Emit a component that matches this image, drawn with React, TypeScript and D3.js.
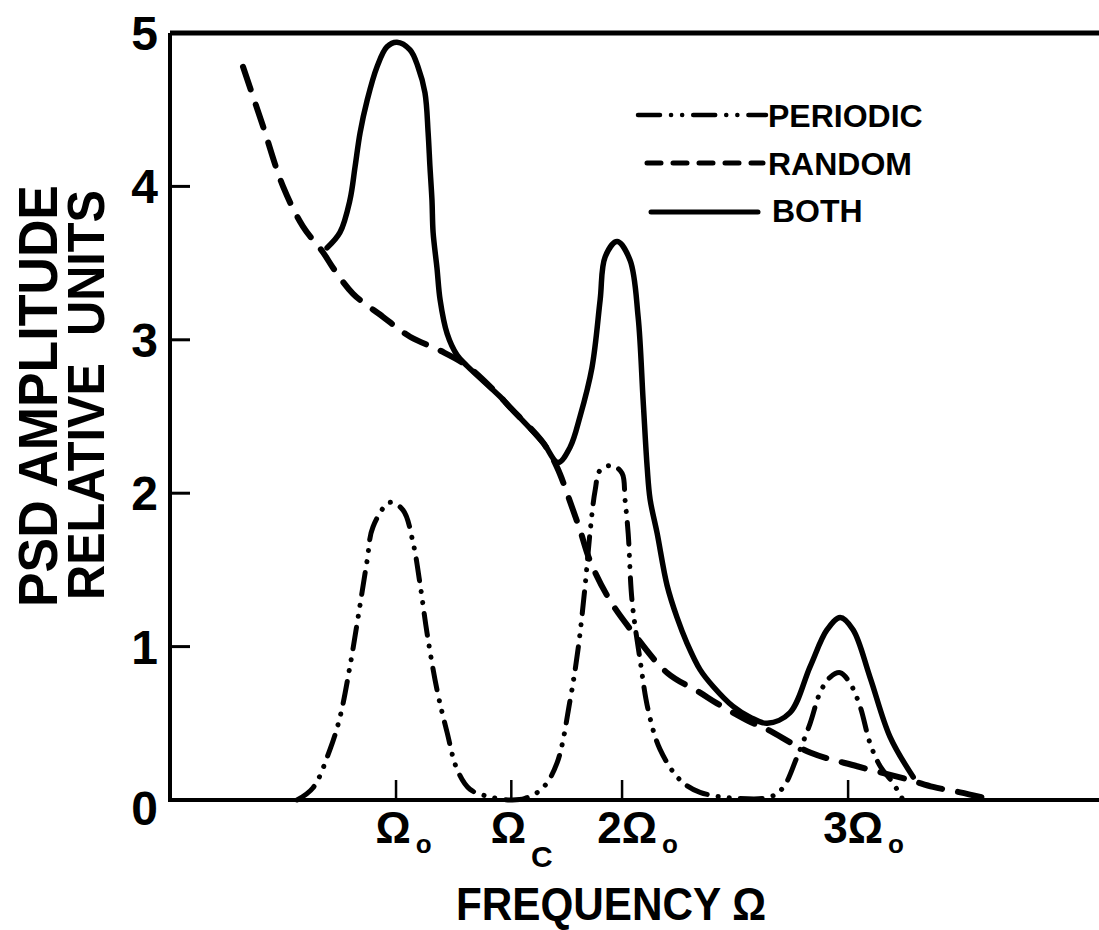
import React, { useEffect, useRef } from "react";
import * as d3 from "d3";

const W = 1099;
const H = 930;

// y axis ticks (relative units)
const yTickValues = [0, 1, 2, 3, 4, 5];
// x axis ticks (frequency in units of Ω0)
const xTickValues = [1, 1.51, 2, 3];
const xTickMain = ["Ω", "Ω", "2Ω", "3Ω"];
const xTickSub = ["o", "C", "o", "o"];

// RANDOM (dashed)
const randomU = [0.323, 0.412, 0.5, 0.588, 0.677, 0.721, 0.81, 0.942, 1.062, 1.195, 1.314, 1.46, 1.504, 1.65, 1.712, 1.783, 1.814, 1.858, 1.947, 2.049, 2.199, 2.345, 2.42, 2.553, 2.642, 2.832, 3.04, 3.274, 3.376, 3.496, 3.615];
const randomV = [4.78, 4.39, 4.0, 3.74, 3.57, 3.47, 3.3, 3.15, 3.02, 2.93, 2.83, 2.63, 2.56, 2.33, 2.17, 1.89, 1.76, 1.56, 1.3, 1.09, 0.83, 0.7, 0.63, 0.52, 0.46, 0.31, 0.22, 0.13, 0.085, 0.05, 0.01];

// BOTH (solid)
const bothU = [0.695, 0.752, 0.796, 0.819, 0.841, 0.872, 0.916, 0.96, 1.004, 1.062, 1.097, 1.128, 1.142, 1.15, 1.159, 1.164, 1.181, 1.195, 1.226, 1.27, 1.314, 1.46, 1.504, 1.65, 1.717, 1.77, 1.814, 1.867, 1.903, 1.925, 1.978, 2.035, 2.071, 2.093, 2.111, 2.124, 2.155, 2.199, 2.243, 2.288, 2.345, 2.403, 2.491, 2.566, 2.642, 2.743, 2.832, 2.907, 2.965, 3.022, 3.097, 3.186, 3.288];
const bothV = [3.6, 3.7, 3.91, 4.13, 4.35, 4.56, 4.78, 4.91, 4.94, 4.89, 4.78, 4.61, 4.35, 4.13, 3.91, 3.7, 3.47, 3.26, 3.04, 2.9, 2.83, 2.63, 2.56, 2.33, 2.2, 2.3, 2.5, 2.82, 3.26, 3.54, 3.64, 3.52, 3.15, 2.61, 2.17, 1.96, 1.74, 1.4, 1.19, 1.02, 0.85, 0.74, 0.61, 0.54, 0.5, 0.57, 0.87, 1.11, 1.19, 1.11, 0.8, 0.41, 0.15];

// PERIODIC (dash-dot-dot)
const periodicU = [0.562, 0.633, 0.708, 0.752, 0.796, 0.832, 0.872, 0.898, 0.973, 1.031, 1.075, 1.106, 1.137, 1.181, 1.226, 1.27, 1.327, 1.416, 1.504, 1.571, 1.65, 1.712, 1.77, 1.805, 1.836, 1.858, 1.881, 1.903, 1.956, 2.0, 2.013, 2.027, 2.044, 2.08, 2.115, 2.168, 2.257, 2.345, 2.522, 2.655, 2.712, 2.774, 2.832, 2.876, 2.92, 2.965, 3.009, 3.053, 3.097, 3.142, 3.199, 3.243];
const periodicV = [0, 0.08, 0.33, 0.54, 0.87, 1.19, 1.56, 1.78, 1.94, 1.89, 1.68, 1.41, 1.09, 0.72, 0.44, 0.2, 0.07, 0.02, 0, 0.01, 0.08, 0.24, 0.65, 0.98, 1.39, 1.74, 2.02, 2.15, 2.18, 2.13, 1.96, 1.74, 1.3, 0.91, 0.59, 0.33, 0.13, 0.05, 0.01, 0.02, 0.08, 0.28, 0.5, 0.7, 0.8, 0.83, 0.76, 0.61, 0.37, 0.22, 0.11, 0];

const legendLabels = ["PERIODIC", "RANDOM", "BOTH"];

const FONT = "'Liberation Sans', Arial, 'DejaVu Sans', sans-serif";
const PERIODIC_DASH = "22 11 0.1 11 0.1 11";
const RANDOM_DASH = "24 16";

export default function App() {
  const ref = useRef<SVGSVGElement | null>(null);

  useEffect(() => {
    const svg = d3.select(ref.current);
    svg.selectAll("*").remove();

    const x = d3.scaleLinear().domain([0, 4.11]).range([170, 1099]);
    const y = d3.scaleLinear().domain([0, 5]).range([800, 33]);

    svg.append("rect").attr("width", W).attr("height", H).attr("fill", "#fff");

    // Frame: left axis, bottom axis, top line
    svg
      .append("path")
      .attr("d", `M${x(0)},${y(5)} V${y(0)} H${x(4.11)}`)
      .attr("fill", "none")
      .attr("stroke", "#000")
      .attr("stroke-width", 4);
    svg
      .append("line")
      .attr("x1", x(0))
      .attr("x2", x(4.11))
      .attr("y1", y(5))
      .attr("y2", y(5))
      .attr("stroke", "#000")
      .attr("stroke-width", 5);

    // Y ticks (inward)
    svg
      .selectAll("line.ytick")
      .data(yTickValues.filter((v) => v > 0 && v < 5))
      .join("line")
      .attr("class", "ytick")
      .attr("x1", x(0))
      .attr("x2", x(0) + 20)
      .attr("y1", (d) => y(d))
      .attr("y2", (d) => y(d))
      .attr("stroke", "#000")
      .attr("stroke-width", 3);

    svg
      .selectAll("text.ylab")
      .data(yTickValues)
      .join("text")
      .attr("class", "ylab")
      .attr("x", x(0) - 12)
      .attr("y", (d) => y(d) + 17 + (d === 0 ? 8 : 0))
      .attr("text-anchor", "end")
      .attr("font-family", FONT)
      .attr("font-weight", "bold")
      .attr("font-size", 48)
      .text((d) => String(d));

    // X ticks (upward)
    svg
      .selectAll("line.xtick")
      .data(xTickValues)
      .join("line")
      .attr("class", "xtick")
      .attr("x1", (d) => x(d))
      .attr("x2", (d) => x(d))
      .attr("y1", y(0))
      .attr("y2", y(0) - 20)
      .attr("stroke", "#000")
      .attr("stroke-width", 2.5);

    xTickValues.forEach((v, i) => {
      const cx = x(v) + (xTickMain[i].length > 1 ? 5 : -3);
      const main = svg
        .append("text")
        .attr("x", cx)
        .attr("y", 843)
        .attr("text-anchor", "middle")
        .attr("font-family", FONT)
        .attr("font-weight", "bold")
        .attr("font-size", 44)
        .text(xTickMain[i]);
      const node = main.node() as SVGTextElement;
      const w = node.getComputedTextLength();
      const isC = xTickSub[i] === "C";
      svg
        .append("text")
        .attr("x", cx + w / 2 + 5)
        .attr("y", isC ? 867 : 853)
        .attr("font-family", FONT)
        .attr("font-weight", "bold")
        .attr("font-size", isC ? 30 : 26)
        .text(xTickSub[i]);
    });

    // Axis titles
    svg
      .append("text")
      .attr("x", 456)
      .attr("y", 920)
      .attr("font-family", FONT)
      .attr("font-weight", "bold")
      .attr("font-size", 47)
      .attr("textLength", 310)
      .attr("lengthAdjust", "spacingAndGlyphs")
      .text("FREQUENCY Ω");

    svg
      .append("text")
      .attr("transform", `translate(57,396) rotate(-90)`)
      .attr("text-anchor", "middle")
      .attr("font-family", FONT)
      .attr("font-weight", "bold")
      .attr("font-size", 56)
      .attr("textLength", 422)
      .attr("lengthAdjust", "spacingAndGlyphs")
      .text("PSD AMPLITUDE");

    svg
      .append("text")
      .attr("transform", `translate(104,395) rotate(-90)`)
      .attr("text-anchor", "middle")
      .attr("font-family", FONT)
      .attr("font-weight", "bold")
      .attr("font-size", 52)
      .attr("textLength", 410)
      .attr("lengthAdjust", "spacingAndGlyphs")
      .style("white-space", "pre")
      .text("RELATIVE  UNITS");

    // Curves
    const line = d3
      .line<[number, number]>()
      .x((d) => x(d[0]))
      .y((d) => y(d[1]))
      .curve(d3.curveCatmullRom.alpha(0.5));

    const randomPts = randomU.map((u, i) => [u, randomV[i]] as [number, number]);
    const bothPts = bothU.map((u, i) => [u, bothV[i]] as [number, number]);
    const periodicPts = periodicU.map((u, i) => [u, periodicV[i]] as [number, number]);

    svg
      .append("path")
      .attr("d", line(periodicPts) || "")
      .attr("fill", "none")
      .attr("stroke", "#000")
      .attr("stroke-width", 5)
      .attr("stroke-linecap", "round")
      .attr("stroke-dasharray", PERIODIC_DASH);

    svg
      .append("path")
      .attr("d", line(randomPts) || "")
      .attr("fill", "none")
      .attr("stroke", "#000")
      .attr("stroke-width", 6)
      .attr("stroke-linecap", "round")
      .attr("stroke-dasharray", RANDOM_DASH);

    svg
      .append("path")
      .attr("d", line(bothPts) || "")
      .attr("fill", "none")
      .attr("stroke", "#000")
      .attr("stroke-width", 5.5)
      .attr("stroke-linecap", "round")
      .attr("stroke-linejoin", "round");

    // Legend
    const legend = [
      { x1: 638, x2: 766, y: 115, tx: 768, ty: 127, dash: PERIODIC_DASH, w: 4.5 },
      { x1: 647, x2: 763, y: 163, tx: 768, ty: 175, dash: "14 12", w: 5 },
      { x1: 651, x2: 758, y: 212, tx: 772, ty: 222, dash: "", w: 5 },
    ];
    legend.forEach((l, i) => {
      svg
        .append("line")
        .attr("x1", l.x1)
        .attr("x2", l.x2)
        .attr("y1", l.y)
        .attr("y2", l.y)
        .attr("stroke", "#000")
        .attr("stroke-width", l.w)
        .attr("stroke-linecap", "round")
        .attr("stroke-dasharray", l.dash || null);
      svg
        .append("text")
        .attr("x", l.tx)
        .attr("y", l.ty)
        .attr("font-family", FONT)
        .attr("font-weight", "bold")
        .attr("font-size", 32)
        .text(legendLabels[i]);
    });
  }, []);

  return (
    <svg
      ref={ref}
      width={W}
      height={H}
      style={{ position: "absolute", left: 0, top: 0, background: "#fff" }}
    />
  );
}
